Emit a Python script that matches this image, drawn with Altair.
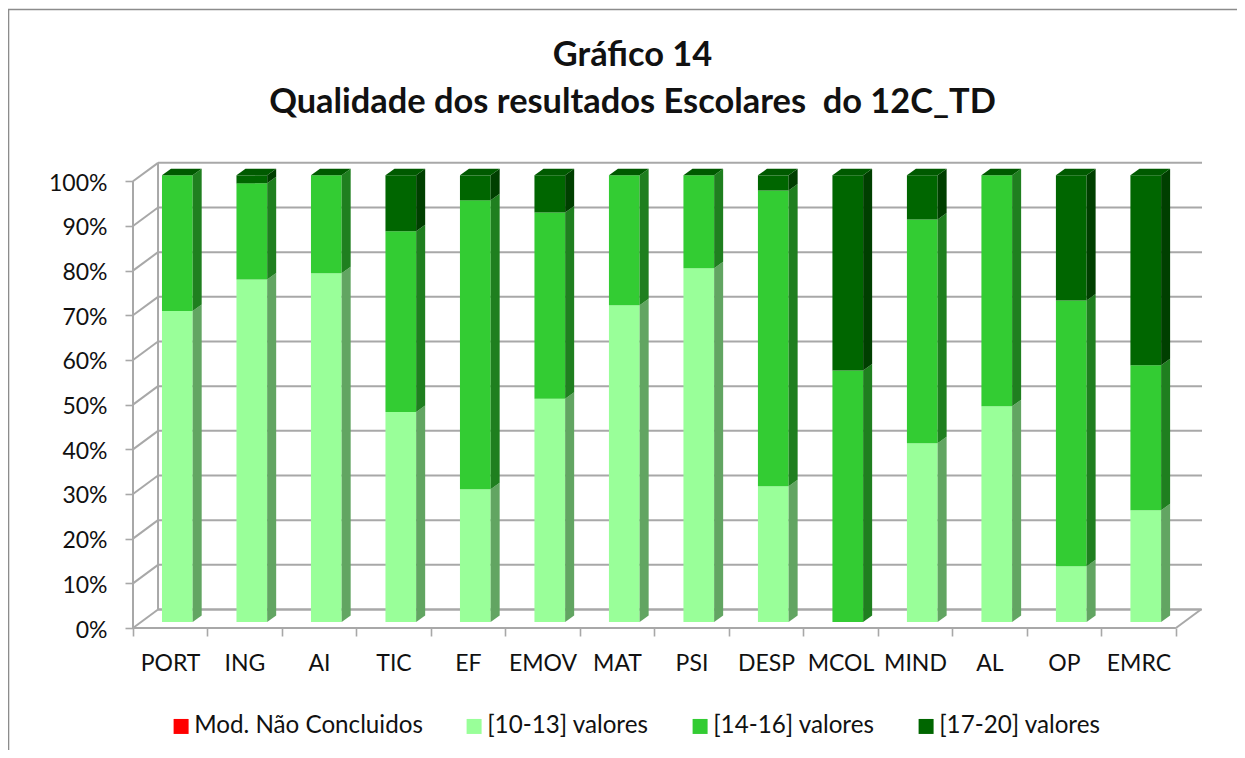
import json
import altair as alt
import pandas as pd

categories = ["PORT", "ING", "AI", "TIC", "EF", "EMOV", "MAT", "PSI", "DESP", "MCOL", "MIND", "AL", "OP", "EMRC"]
nao_concluidos = [0] * 14
low = [69.6, 76.7, 78.1, 47.0, 29.7, 50.0, 70.9, 79.2, 30.4, 0.0, 40.0, 48.3, 12.5, 25.0]
mid = [30.4, 21.5, 21.9, 40.5, 64.7, 41.7, 29.1, 20.8, 66.2, 56.3, 50.1, 51.7, 59.5, 32.5]
high = [0.0, 1.8, 0.0, 12.5, 5.6, 8.3, 0.0, 0.0, 3.4, 43.7, 9.9, 0.0, 28.0, 42.5]

series_names = ["Mod. Não Concluidos", "[10-13] valores", "[14-16] valores", "[17-20] valores"]
series_values = [nao_concluidos, low, mid, high]
front_colors = ["#FF0000", "#99FF99", "#33CC33", "#006600"]
side_colors = ["#A00000", "#62A562", "#1F7F1F", "#003F00"]
top_color = "#005A00"
grid_color = "#A8A8A8"
font = "Lato"
pcts = list(range(0, 101, 10))

X_MAX, Y_MAX = 14.35, 104.1
WALL_X, WALL_Y = 0.336, 4.14
BAR_DX, BAR_HALF = 0.095, 0.206
BAR_BASE = 1.34
DEPTH_X, DEPTH_Y = 0.121, 1.455

fronts, sides, tops = [], [], []
for i, cat in enumerate(categories):
    cx = i + 0.5 + BAR_DX
    xl, xr = cx - BAR_HALF, cx + BAR_HALF
    base = 0.0
    for name, vals, side in zip(series_names, series_values, side_colors):
        v = vals[i]
        y0, y1 = base + BAR_BASE, base + v + BAR_BASE
        fronts.append(dict(cat=cat, series=name, x=xl, x2=xr, y=y0, y2=y1))
        if v > 0:
            key = f"{cat}-{name}"
            sides.append(dict(key=key, shade=side, x=xr, y=y0, y2=y1))
            sides.append(dict(key=key, shade=side, x=xr + DEPTH_X, y=y0 + DEPTH_Y, y2=y1 + DEPTH_Y))
        base += v
    t = base + BAR_BASE
    tops += [
        dict(cat=cat, x=xl, y=t + 0.0, y2=t),
        dict(cat=cat, x=xl + DEPTH_X, y=t + DEPTH_Y, y2=t),
        dict(cat=cat, x=xr, y=t + DEPTH_Y, y2=t),
        dict(cat=cat, x=xr + DEPTH_X, y=t + DEPTH_Y, y2=t + DEPTH_Y),
    ]

wall_rows, slant_rows = [], []
for p in pcts:
    wall_rows += [dict(key=p, x=WALL_X, y=p + WALL_Y), dict(key=p, x=X_MAX, y=p + WALL_Y)]
    slant_rows += [dict(key=p, x=0, y=p), dict(key=p, x=WALL_X, y=p + WALL_Y)]
slant_rows += [dict(key=-1, x=14, y=0), dict(key=-1, x=14 + WALL_X, y=WALL_Y)]
wall_rows += [dict(key=-2, x=WALL_X, y=WALL_Y), dict(key=-2, x=WALL_X, y=100 + WALL_Y)]

xs = alt.Scale(domain=[0, X_MAX], nice=False, zero=False)
ys = alt.Scale(domain=[0, Y_MAX], nice=False, zero=False)
label_expr = json.dumps(categories) + "[datum.value] || ''"
x_axis = alt.Axis(
    values=list(range(15)), labelExpr=label_expr, labelOffset=37, labelFont=font, labelFontSize=23,
    labelColor="#111111", labelPadding=16, labelOverlap=False, labelBound=False, labelFlush=False,
    domain=False, grid=False, tickSize=8, tickColor=grid_color, tickWidth=1.6)
y_axis = alt.Axis(
    values=pcts, labelExpr="datum.value + '%'", labelFont=font, labelFontSize=23, labelColor="#111111",
    labelPadding=18, labelOffset=2, labelOverlap=False, labelBound=False, labelFlush=False,
    domain=False, grid=False, tickSize=8, tickColor=grid_color, tickWidth=1.6)
X = alt.X("x:Q", scale=xs, title=None, axis=x_axis)
Y = alt.Y("y:Q", scale=ys, title=None, axis=y_axis)

line = dict(color=grid_color, strokeWidth=2)
walls = alt.Chart(pd.DataFrame(wall_rows)).mark_line(**line).encode(x=X, y=Y, detail="key:N")
slants = alt.Chart(pd.DataFrame(slant_rows)).mark_line(**line).encode(x=X, y=Y, detail="key:N")
floor = alt.Chart(pd.DataFrame({"x": [0, 14], "y": [0, 0]})).mark_line(**line).encode(x=X, y=Y)
yline = alt.Chart(pd.DataFrame({"x": [0, 0], "y": [0, 100]})).mark_line(**line).encode(x=X, y=Y)
backfloor = alt.Chart(pd.DataFrame({"x": [WALL_X, 14 + WALL_X], "y": [WALL_Y, WALL_Y]})).mark_line(**line).encode(x=X, y=Y)

front = alt.Chart(pd.DataFrame(fronts)).mark_rect().encode(
    x=X, x2="x2:Q", y=Y, y2="y2:Q",
    color=alt.Color("series:N", title=None,
        scale=alt.Scale(domain=series_names, range=front_colors),
        sort=series_names,
        legend=alt.Legend(orient="none", legendX=36, legendY=551, direction="horizontal", columns=4,
                          symbolType="square", symbolSize=225, symbolStrokeWidth=0, labelFont=font,
                          labelFontSize=24.2, labelColor="#111111", columnPadding=39, labelOffset=1,
                          labelLimit=400, padding=0)),
)
side = alt.Chart(pd.DataFrame(sides)).mark_area(opacity=1).encode(
    x=X, y=Y, y2="y2:Q", detail="key:N", fill=alt.Fill("shade:N", scale=None, legend=None))
top = alt.Chart(pd.DataFrame(tops)).mark_area(color=top_color, opacity=1).encode(
    x=X, y=Y, y2="y2:Q", detail="cat:N")

frame_top = alt.Chart(pd.DataFrame({"k": [0]})).mark_rule(color="#8C8C8C", strokeWidth=1.6).encode(
    x=alt.value(-125), x2=alt.value(1104), y=alt.value(-153.5))
frame_left = alt.Chart(pd.DataFrame({"k": [0]})).mark_rule(color="#8C8C8C", strokeWidth=1.6).encode(
    x=alt.value(-124.5), y=alt.value(-153.5), y2=alt.value(587))

chart = alt.layer(frame_top, frame_left, walls, slants, backfloor, floor, yline, front, side, top).resolve_scale(
    color="independent", fill="independent"
).properties(
    width=1069, height=465,
    padding={"left": 125, "top": 155, "right": 35, "bottom": 122},
    autosize=alt.AutoSizeParams(type="none"),
    title=alt.Title(["Gráfico 14", "Qualidade dos resultados Escolares\u00a0 do 12C_TD"], font=font, fontSize=34.4,
                    fontWeight="bold", color="#111111", anchor="middle", dx=-35, lineHeight=47, dy=116),
).configure_view(stroke=None)

chart.save("out.html", embed_options={"renderer": "svg", "actions": False})
